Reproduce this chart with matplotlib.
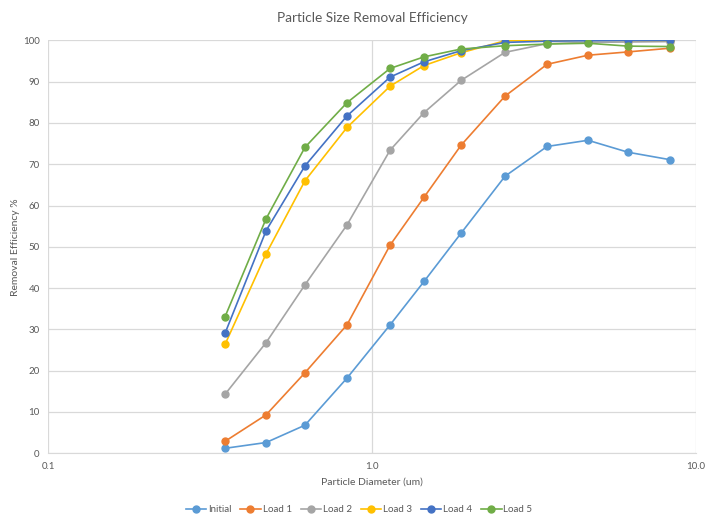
import matplotlib.pyplot as plt
from matplotlib.ticker import FixedLocator, NullLocator

plt.rcParams['font.family'] = ['Lato', 'DejaVu Sans']

diameter = [0.352, 0.471, 0.621, 0.837, 1.137, 1.447, 1.883, 2.574, 3.47, 4.64, 6.17, 8.31]

initial = [1.2, 2.6, 6.8, 18.2, 31.1, 41.6, 53.3, 67.1, 74.3, 75.8, 72.9, 71.1]
load1 = [2.9, 9.3, 19.5, 31.1, 50.4, 62.0, 74.6, 86.5, 94.2, 96.4, 97.2, 98.1]
load2 = [14.3, 26.8, 40.8, 55.3, 73.4, 82.5, 90.3, 97.1, 99.2, 99.5, 99.6, 99.7]
load3 = [26.4, 48.3, 66.0, 78.9, 88.9, 93.9, 97.0, 99.9, 99.9, 100.0, 100.0, 100.0]
load4 = [29.1, 53.9, 69.6, 81.7, 91.1, 94.8, 97.5, 99.5, 99.8, 99.9, 100.0, 100.0]
load5 = [33.1, 56.8, 74.1, 84.9, 93.2, 96.0, 97.9, 98.7, 99.1, 99.3, 98.6, 98.5]

series = [
    ("Initial", initial, "#5B9BD5"),
    ("Load 1", load1, "#ED7D31"),
    ("Load 2", load2, "#A5A5A5"),
    ("Load 3", load3, "#FFC000"),
    ("Load 4", load4, "#4472C4"),
    ("Load 5", load5, "#70AD47"),
]

text_col = "#595959"

fig = plt.figure(figsize=(7.2, 5.24), dpi=100)
ax = fig.add_axes([0.0667, 0.135, 0.9, 0.788])

for name, vals, col in series:
    ax.plot(diameter, vals, color=col, marker="o", markersize=5, linewidth=1.2, label=name)

ax.set_xscale("log")
ax.set_xlim(0.1, 10)
ax.set_ylim(0, 100)
ax.xaxis.set_major_locator(FixedLocator([0.1, 1.0, 10.0]))
ax.xaxis.set_minor_locator(NullLocator())
ax.set_xticklabels(["0.1", "1.0", "10.0"])
ax.set_yticks(range(0, 101, 10))

ax.grid(True, axis="both", which="major", color="#D9D9D9", linewidth=0.9)
ax.set_axisbelow(True)
for s in ["top", "left", "right"]:
    ax.spines[s].set_visible(False)
ax.spines["bottom"].set_color("#D9D9D9")
ax.tick_params(length=0, labelsize=7, colors=text_col, pad=6)

ax.set_title("Particle Size Removal Efficiency", fontsize=9.8, color=text_col, pad=13)
ax.set_xlabel("Particle Diameter (um)", fontsize=7.5, color=text_col, labelpad=5)
ax.set_ylabel("Removal Efficiency %", fontsize=7.5, color=text_col, labelpad=2)

ax.legend(loc="upper center", bbox_to_anchor=(0.48, -0.105), ncol=6, frameon=False,
          fontsize=7, labelcolor=text_col, handlelength=2.1, handletextpad=0.2,
          columnspacing=0.9)

fig.savefig("out.png", dpi=100)
